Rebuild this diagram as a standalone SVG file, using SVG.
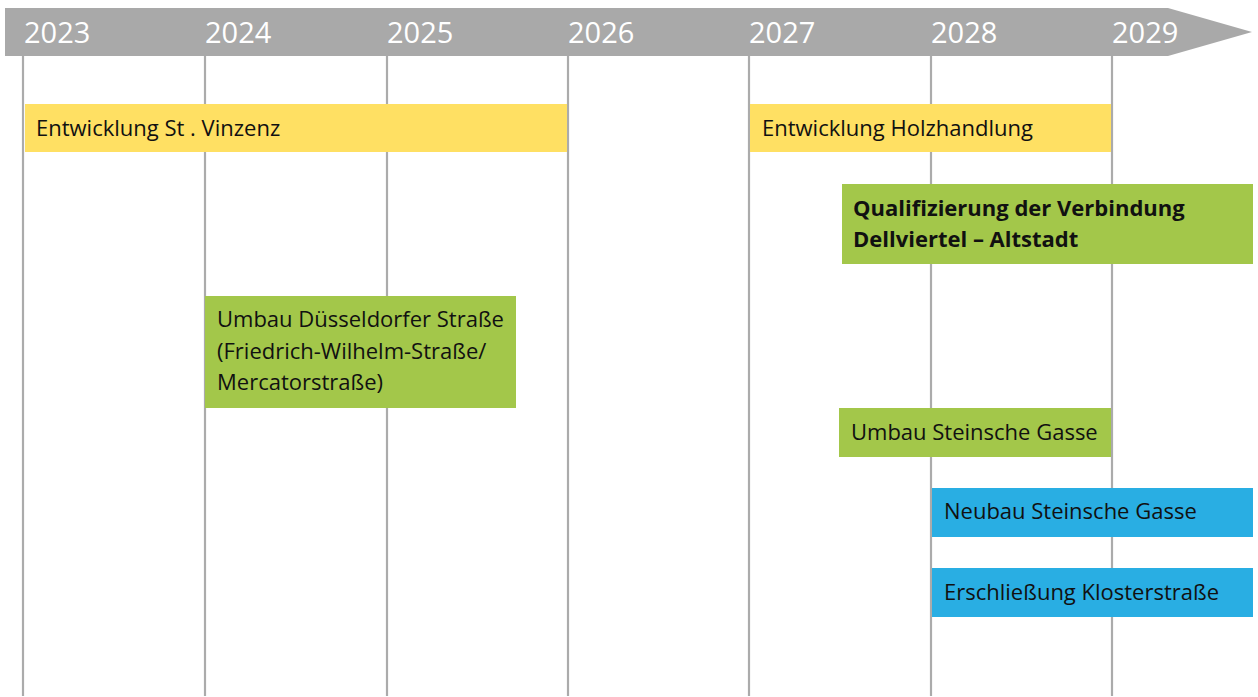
<svg xmlns="http://www.w3.org/2000/svg" width="1258" height="697" viewBox="0 0 1258 697">
<style>
.grid{stroke:#ababab;stroke-width:2.2;fill:none}
.yr{font-family:"Open Sans","Noto Sans",sans-serif;font-size:29px;fill:#ffffff}
.lbl{font-family:"Open Sans","Noto Sans",sans-serif;font-size:22px;fill:#111111}
.bold{font-weight:bold}
.yellow{fill:#ffe063}
.green{fill:#a3c74a}
.blue{fill:#29aee3}
</style>
<rect width="1258" height="697" fill="#ffffff"/>
<g id="timeline">
<polygon points="5,8 1168,8 1252,32 1168,56 5,56" fill="#a9a9a9"/>
<text class="yr" x="24" y="43">2023</text>
<text class="yr" x="205" y="43">2024</text>
<text class="yr" x="387" y="43">2025</text>
<text class="yr" x="568" y="43">2026</text>
<text class="yr" x="749" y="43">2027</text>
<text class="yr" x="931" y="43">2028</text>
<text class="yr" x="1112" y="43">2029</text>
</g>
<g id="connectors">
<line class="grid" x1="23" y1="56" x2="23" y2="696"/>
<line class="grid" x1="205" y1="56" x2="205" y2="696"/>
<line class="grid" x1="387" y1="56" x2="387" y2="696"/>
<line class="grid" x1="568" y1="56" x2="568" y2="696"/>
<line class="grid" x1="749" y1="56" x2="749" y2="696"/>
<line class="grid" x1="931" y1="56" x2="931" y2="696"/>
<line class="grid" x1="1112" y1="56" x2="1112" y2="696"/>
</g>
<g id="vinzenz">
<rect class="yellow" x="25" y="104" width="542" height="48"/>
<text class="lbl" x="36" y="136">Entwicklung St . Vinzenz</text>
</g>
<g id="holzhandlung">
<rect class="yellow" x="750" y="104" width="361" height="48"/>
<text class="lbl" x="762" y="136">Entwicklung Holzhandlung</text>
</g>
<g id="qualifizierung">
<rect class="green" x="842" y="184" width="411" height="80"/>
<text class="lbl bold" x="853" y="216">Qualifizierung der Verbindung</text>
<text class="lbl bold" x="853" y="247">Dellviertel – Altstadt</text>
</g>
<g id="duesseldorfer">
<rect class="green" x="205" y="296" width="311" height="112"/>
<text class="lbl" x="217" y="327">Umbau Düsseldorfer Straße</text>
<text class="lbl" x="217" y="359">(Friedrich-Wilhelm-Straße/</text>
<text class="lbl" x="217" y="390">Mercatorstraße)</text>
</g>
<g id="umbau-steinsche">
<rect class="green" x="839" y="408" width="272" height="49"/>
<text class="lbl" x="851" y="440">Umbau Steinsche Gasse</text>
</g>
<g id="neubau-steinsche">
<rect class="blue" x="932" y="488" width="321" height="49"/>
<text class="lbl" x="944" y="519">Neubau Steinsche Gasse</text>
</g>
<g id="klosterstrasse">
<rect class="blue" x="932" y="568" width="321" height="49"/>
<text class="lbl" x="944" y="600">Erschließung Klosterstraße</text>
</g>
</svg>
